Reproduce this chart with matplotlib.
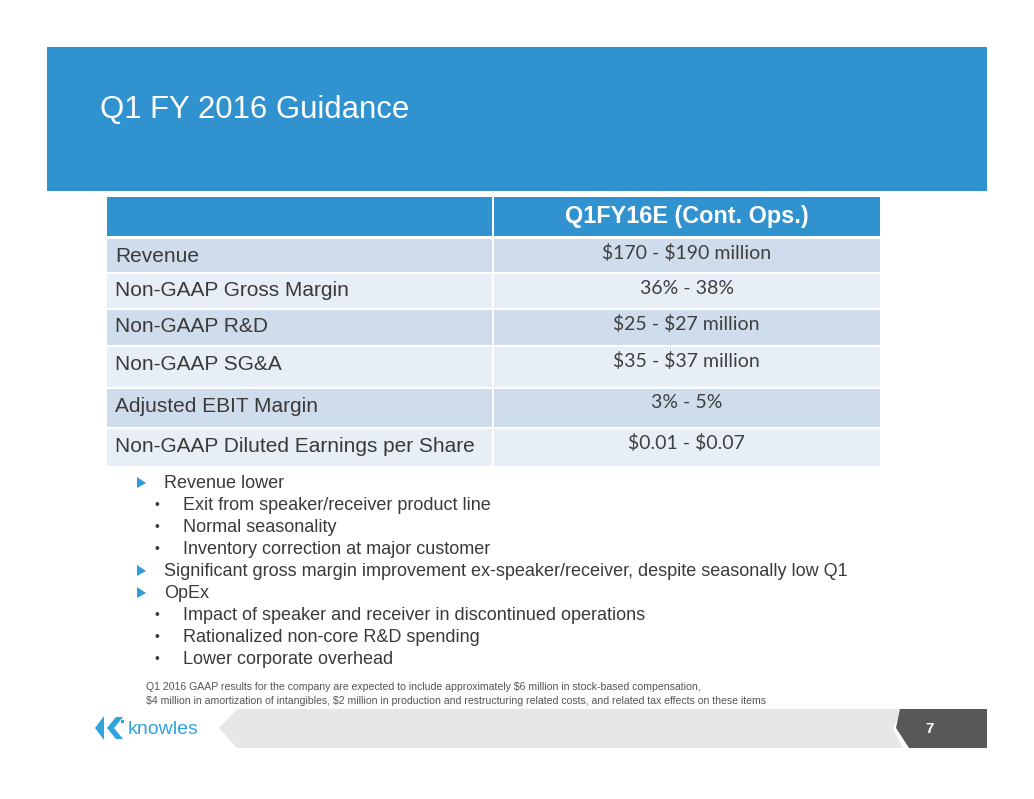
import matplotlib.pyplot as plt
from matplotlib.patches import Rectangle, Polygon
from matplotlib import font_manager

plt.rcParams["text.parse_math"] = False

title = "Q1 FY 2016 Guidance"
col_header = "Q1FY16E (Cont. Ops.)"
row_labels = ["Revenue", "Non-GAAP Gross Margin", "Non-GAAP R&D", "Non-GAAP SG&A",
              "Adjusted EBIT Margin", "Non-GAAP Diluted Earnings per Share"]
row_values = ["$170 - $190 million", "36% - 38%", "$25 - $27 million",
              "$35 - $37 million", "3% - 5%", "$0.01 - $0.07"]
row_heights = [33, 34, 35, 40, 38, 37]

# (level, text): level 0 = arrow bullet, 1 = dot bullet
bullets = [
    (0, "Revenue lower"),
    (1, "Exit from speaker/receiver product line"),
    (1, "Normal seasonality"),
    (1, "Inventory correction at major customer"),
    (0, "Significant gross margin improvement ex-speaker/receiver, despite seasonally low Q1"),
    (0, "OpEx"),
    (1, "Impact of speaker and receiver in discontinued operations"),
    (1, "Rationalized non-core R&D spending"),
    (1, "Lower corporate overhead"),
]
footnote = ["Q1 2016 GAAP results for the company are expected to include approximately $6 million in stock-based compensation,",
            "$4 million in amortization of intangibles, $2 million in production and restructuring related costs, and related tax effects on these items"]
page_no = "7"

BLUE = "#3092CF"
DARK_ROW = "#CFDCEB"
LIGHT_ROW = "#E8EEF6"
TXT = "#3A3A3A"

names = {f.name for f in font_manager.fontManager.ttflist}
sans = "Liberation Sans" if "Liberation Sans" in names else "DejaVu Sans"
val_font = "Lato" if "Lato" in names else sans

W, H = 1034, 799
fig = plt.figure(figsize=(W / 100, H / 100), dpi=100)
ax = fig.add_axes([0, 0, 1, 1])
ax.set_xlim(0, W)
ax.set_ylim(H, 0)
ax.axis("off")

# title band
ax.add_patch(Rectangle((47, 47), 940, 144, color=BLUE, lw=0))
ax.text(100, 110, title, color="white", fontsize=22.4, family=sans, va="center", ha="left")

# table
x0, xs, x1 = 107, 493, 880
ax.add_patch(Rectangle((x0, 197), xs - x0 - 1, 39, color=BLUE, lw=0))
ax.add_patch(Rectangle((xs + 1, 197), x1 - xs - 1, 39, color=BLUE, lw=0))
ax.text((xs + x1) / 2, 217, col_header, color="white", fontsize=16.8, weight="bold",
        family=sans, ha="center", va="center")

top = 239
for i, (lab, val, h) in enumerate(zip(row_labels, row_values, row_heights)):
    c = DARK_ROW if i % 2 == 0 else LIGHT_ROW
    ax.add_patch(Rectangle((x0, top), xs - x0 - 1, h, color=c, lw=0))
    ax.add_patch(Rectangle((xs + 1, top), x1 - xs - 1, h, color=c, lw=0))
    ax.text(x0 + 8, top + 17, lab, color=TXT, fontsize=15, family=sans, va="center")
    ax.text((xs + x1) / 2, top + 14, val, color="#404040", fontsize=14, family=val_font,
            ha="center", va="center")
    top += h + 2

# bullets
y = 483
for lvl, txt in bullets:
    if lvl == 0:
        ax.add_patch(Polygon([(137, y - 6), (137, y + 5), (146, y)], color="#2F9BD7", lw=0))
        ax.text(164, y, txt, color=TXT, fontsize=13, family=sans, va="center")
    else:
        ax.text(157, y, "\u2022", color=TXT, fontsize=10, family=sans, va="center", ha="center")
        ax.text(183, y, txt, color=TXT, fontsize=13, family=sans, va="center")
    y += 22

# footnote
for j, line in enumerate(footnote):
    ax.text(146, 687 + 14 * j, line, color="#555555", fontsize=7.55, family=sans, va="center")

# footer band and page box
ax.add_patch(Polygon([(237, 709), (903, 709), (893, 728), (903, 748), (237, 748), (219, 728)],
                     color="#E6E7E9", lw=0))
ax.add_patch(Polygon([(900, 709), (987, 709), (987, 748), (909, 748), (896, 728)],
                     color="#58585A", lw=0))
ax.text(930, 729, page_no, color="white", fontsize=11, weight="bold", family=sans,
        ha="center", va="center")

# logo
LOGO = "#2FA3DC"
ax.add_patch(Polygon([(95, 728), (104, 716), (104, 740)], color=LOGO, lw=0))
ax.add_patch(Polygon([(107, 728), (116, 717), (123, 717), (114, 728), (123, 739), (116, 739)],
                     color=LOGO, lw=0))
ax.add_patch(Rectangle((121, 720), 2.5, 2.5, color=LOGO, lw=0))
ax.text(128, 729, "knowles", color=LOGO, fontsize=14, family=sans, va="center")

fig.savefig("out.png", dpi=100)
